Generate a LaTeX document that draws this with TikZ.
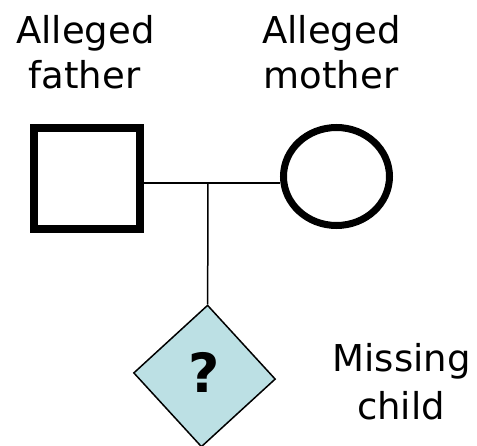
\documentclass[tikz,border=0pt]{standalone}
\usepackage{fontspec}
\setmainfont{DejaVu Sans}
\usetikzlibrary{shapes.geometric}
\definecolor{childfill}{HTML}{BCE0E4}
\tikzset{
  label text/.style={anchor=base, inner sep=0pt, font=\fontsize{37}{44}\selectfont},
  male/.style={draw, rectangle, line width=8pt, minimum width=106pt, minimum height=101pt, inner sep=0pt},
  female/.style={draw, ellipse, line width=7pt, minimum width=106pt, minimum height=98pt, inner sep=0pt},
  unknown/.style={draw, rectangle, line width=1.5pt, fill=childfill, minimum size=100pt, inner sep=0pt, rotate=42.5},
  link/.style={line width=1.5pt}
}
\begin{document}
\begin{tikzpicture}[x=1pt, y=-1pt]
  \useasboundingbox (0,0) rectangle (477,446);
  % labels
  \node[label text] (fa1) at (85.5,44) {Alleged};
  \node[label text] (fa2) at (84.5,89) {father};
  \node[label text] (mo1) at (331.5,44) {Alleged};
  \node[label text] (mo2) at (331,89) {mother};
  \node[label text] (ch1) at (401.5,372) {Missing};
  \node[label text] (ch2) at (401,420) {child};
  % parents
  \node[male] (father) at (87,178.5) {};
  \node[female] (mother) at (336.5,176.5) {};
  % child
  \node[unknown] (child) at (204.5,376) {};
  \node[font=\bfseries\fontsize{54}{60}\selectfont] (q) at (204.5,372) {?};
  % mating line and descent line
  \coordinate (j) at (208,183);
  \draw[link] (j -| father.east) -- (j -| mother.west);
  \draw[link] (j) -- (child.north east);
\end{tikzpicture}
\end{document}
